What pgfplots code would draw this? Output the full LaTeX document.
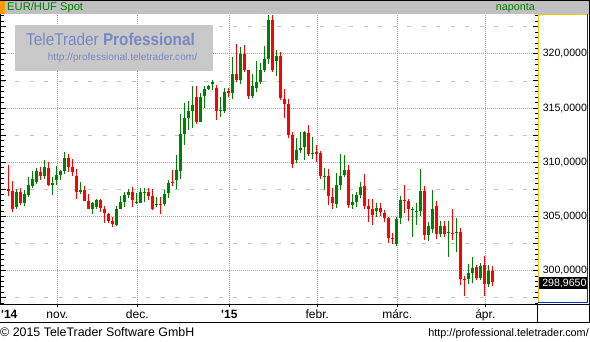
\documentclass[border=0pt]{standalone}
\usepackage{fontspec}
\setmainfont{Liberation Sans}
\usepackage{pgfplots}
\usepackage{pgfplotstable}
\pgfplotsset{compat=1.18}
\definecolor{cgreen}{RGB}{0,128,0}
\definecolor{cred}{RGB}{255,0,0}
\definecolor{bargray}{RGB}{192,192,192}
\definecolor{wmgray}{RGB}{200,200,200}
\definecolor{wmblue}{RGB}{120,136,196}
\definecolor{gridgray}{RGB}{165,165,165}
\definecolor{dashgray}{RGB}{195,195,195}
\definecolor{panelyellow}{RGB}{240,200,0}
\definecolor{panelblue}{RGB}{0,40,200}
\definecolor{tagorange}{RGB}{255,153,0}
\newcommand\fs[1]{\fontsize{#1}{#1}\selectfont}

\pgfplotstableread{
i o h l c
3 305.89 307.53 305.68 307.25
5 306.27 307.44 305.99 307.07
6 306.98 308.64 306.79 307.90
7 307.84 309.20 307.65 308.46
8 308.21 309.48 308.02 309.20
10 308.77 310.22 308.49 309.57
12 307.90 308.64 306.98 308.09
13 308.40 309.66 307.90 308.83
14 308.83 309.29 308.40 309.20
15 309.23 310.96 308.92 310.40
19 307.28 308.18 307.10 307.44
22 305.71 306.33 305.22 306.27
23 305.89 306.60 305.71 306.51
28 304.23 305.99 304.14 305.71
29 305.71 306.88 305.65 306.33
30 306.33 307.25 305.89 306.98
31 306.98 307.56 306.70 307.25
33 306.24 307.16 306.11 306.34
34 306.24 307.62 306.20 307.25
35 307.16 307.62 306.33 307.26
38 306.04 306.81 305.89 306.15
40 306.13 307.42 305.98 307.12
41 307.18 308.34 306.72 308.13
43 308.40 310.71 307.58 309.26
44 309.20 314.42 308.44 312.64
45 312.61 315.43 311.56 314.05
46 314.05 315.61 312.94 314.69
47 314.72 317.00 313.19 315.25
49 313.71 316.35 313.68 316.04
50 316.07 317.00 315.00 316.78
51 316.78 317.15 316.63 317.00
52 317.21 317.55 316.66 317.45
54 314.69 316.01 314.17 314.79
55 314.72 316.84 314.54 316.53
57 316.38 319.75 315.83 318.10
59 317.55 320.67 317.21 320.03
62 316.07 318.19 315.92 317.00
63 316.81 319.39 316.47 317.45
64 317.45 319.20 317.21 318.47
65 318.47 320.77 318.37 319.57
66 319.57 323.58 319.10 323.10
68 319.39 320.40 318.00 319.85
73 310.17 312.26 309.89 311.15
74 311.15 312.82 310.82 311.34
75 311.37 312.91 310.23 312.82
77 310.80 312.35 310.35 310.90
80 308.66 309.49 307.40 308.76
83 306.11 309.03 305.74 307.92
84 307.95 310.78 307.40 308.75
85 308.85 310.69 308.60 309.31
87 306.05 307.09 305.65 306.35
88 306.38 307.28 305.83 307.00
89 307.00 308.20 306.75 307.74
93 305.52 306.26 304.91 305.80
98 302.48 304.97 302.32 304.79
99 304.82 306.91 304.35 306.54
102 305.62 305.92 303.15 305.72
103 305.45 306.26 304.26 305.55
104 305.55 309.40 305.00 307.37
106 303.25 304.51 302.78 304.08
107 303.82 307.45 303.45 305.66
109 303.38 304.62 303.14 304.12
111 303.50 304.62 301.29 303.60
113 303.48 304.83 301.75 303.60
116 299.20 300.62 298.74 299.75
117 299.75 301.29 298.89 300.25
119 299.29 300.74 299.11 300.46
121 298.77 300.52 298.46 299.94
}\greens

\pgfplotstableread{
i o h l c
1 307.56 309.75 306.88 307.38
2 307.35 308.30 305.43 305.71
4 307.25 307.65 306.08 306.27
9 309.11 309.57 308.40 308.73
11 309.48 310.03 307.84 307.90
16 310.40 310.77 309.14 309.60
17 309.57 310.31 308.77 309.14
18 308.73 309.38 306.64 307.28
20 307.44 307.81 306.39 306.45
21 306.42 307.07 305.65 305.71
24 306.51 306.60 305.43 305.80
25 305.71 305.96 304.41 305.28
26 305.22 305.34 304.41 304.60
27 304.60 304.91 304.04 304.29
32 307.25 307.72 305.89 306.51
36 307.25 307.62 306.51 306.88
37 306.87 307.58 305.58 305.67
39 306.17 306.81 305.21 306.07
42 308.19 309.26 307.82 308.09
48 315.98 317.00 313.56 313.71
53 316.81 317.09 313.90 314.72
56 316.56 316.81 315.98 316.38
58 318.19 320.95 317.45 317.55
60 320.03 320.86 318.37 318.47
61 318.47 318.53 315.83 316.07
67 323.10 323.58 318.37 318.47
69 319.85 320.21 315.77 315.89
70 315.80 316.72 314.05 315.37
71 315.34 315.80 312.24 312.55
72 312.54 312.82 309.43 309.80
76 312.72 313.46 310.54 310.78
78 310.97 311.62 310.05 310.78
79 310.88 311.06 308.42 308.69
81 308.75 309.40 306.02 306.85
82 306.82 307.65 305.65 306.20
86 309.31 309.77 305.74 306.08
90 307.83 308.94 305.65 305.98
91 305.98 306.66 304.45 305.65
92 305.65 306.66 304.26 305.18
94 305.80 306.26 305.00 305.37
95 305.34 305.62 304.45 304.82
96 304.82 304.91 302.60 303.06
97 303.02 303.52 302.48 302.90
100 306.54 307.92 305.28 306.44
101 306.45 306.57 304.54 305.65
105 307.37 307.83 302.85 303.25
108 305.97 306.46 302.89 303.38
110 304.12 304.62 303.08 303.38
112 303.51 305.66 302.83 303.38
114 303.57 303.91 298.68 299.20
115 299.22 299.51 297.66 299.12
118 300.31 300.52 299.14 299.29
120 300.52 301.35 297.69 298.77
122 299.94 300.40 298.58 298.97
}\reds

\pgfplotsset{
  wick/.style={draw=none, mark=none, error bars/.cd, y dir=plus, y explicit, error mark=none,
    error bar style={draw=#1, line width=1pt, solid}},
  body/.style={draw=none, mark=none, error bars/.cd, y dir=plus, y explicit, error mark=none,
    error bar style={draw=#1, line width=3pt, solid}},
}

\begin{document}
\begin{tikzpicture}[x=1pt,y=1pt]
\path[use as bounding box, fill=white] (0,0) rectangle (590,342);

\begin{axis}[
  at={(1pt,38pt)}, anchor=south west,
  scale only axis, width=537pt, height=289.5pt,
  xmin=-0.8325, xmax=133.4175, ymin=296.928, ymax=323.635,
  axis line style={draw=none},
  xtick={13.25,33.25,56.25,78.25,98.25,120.25},
  xticklabels={nov.,dec.,\textbf{\textquotesingle15},febr.,márc.,ápr.},
  ytick={300,305,...,320},
  minor ytick={297.5,302.5,...,322.5},
  grid=both,
  major grid style={gridgray, dash pattern=on 1pt off 1pt, line width=0.9pt},
  minor grid style={dashgray, dash pattern=on 4pt off 10.5pt, line width=0.9pt},
  tick align=outside, major tick length=3.5pt, minor tick length=0pt,
  xtick pos=left,
  ytick style={draw=none}, xtick style={black, line width=1pt},
  yticklabel pos=right,
  /pgf/number format/assume math mode=true,
  yticklabel style={/pgf/number format/.cd, fixed, fixed zerofill, precision=4, use comma, /tikz/.cd, anchor=east, xshift=45.7pt, inner sep=0pt, font=\fs{10.6}},
  xticklabel style={anchor=base, yshift=-11pt, inner sep=0pt, font=\fs{12}},
]
\addplot[wick=cgreen] table[x=i, y=l, y error plus expr=\thisrow{h}-\thisrow{l}] {\greens};
\addplot[body=cgreen] table[x=i, y=o, y error plus expr=\thisrow{c}-\thisrow{o}] {\greens};
\addplot[wick=cred] table[x=i, y=l, y error plus expr=\thisrow{h}-\thisrow{l}] {\reds};
\addplot[body=cred] table[x=i, y=c, y error plus expr=\thisrow{o}-\thisrow{c}] {\reds};
\end{axis}

\begin{axis}[
  at={(1pt,38pt)}, anchor=south west,
  scale only axis, width=537pt, height=289.5pt,
  xmin=-0.8325, xmax=133.4175, ymin=296.928, ymax=323.635,
  axis line style={draw=none},
  xtick=\empty,
  ytick={297.5,300,...,322.5},
  minor ytick={297,297.5,...,323.5},
  yticklabels={},
  tick align=inside, major tick length=5pt, minor tick length=3pt,
  ytick pos=both,
  every tick/.style={black, line width=1pt},
]
\end{axis}

% watermark
\fill[wmgray] (15,271.3) rectangle (212.7,317);
\node[anchor=base west, inner sep=0pt, text=wmblue, font=\fs{15.3}] at (26,296) {\scalebox{1}[1.12]{TeleTrader \textbf{Professional}}};
\node[anchor=base east, inner sep=0pt, text=wmblue, font=\fs{10.1}] at (197.3,281.5) {http://professional.teletrader.com/};

% title bar
\fill[bargray] (0,327.5) rectangle (589,342);
\fill[tagorange] (0,327.5) rectangle (5,342);
\fill[black] (0,341) rectangle (590,342);
\node[anchor=base west, inner sep=0pt, text=cgreen, font=\fs{11.2}] at (7,331.3) {EUR/HUF Spot};
\node[anchor=base east, inner sep=0pt, text=cgreen, font=\fs{10.8}] at (535,331.3) {naponta};

% left border
\fill[black] (0,37) rectangle (1,327.5);

% right panel
\fill[panelyellow] (538,38.5) rectangle (539,327.5);
\fill[panelyellow] (538,326.5) rectangle (588,327.5);
\fill[panelblue] (587,38.5) rectangle (588,327.5);
\fill[panelblue] (538,38.5) rectangle (588,39.5);
\fill[black] (538.8,53.3) rectangle (587,64.7);
\node[anchor=east, inner sep=0pt, text=white, font=\fs{10.6}] at (586.7,59) {298,9650};

% frame lines
\fill[black] (589,18.5) rectangle (590,342);
\fill[black] (0,36.5) rectangle (590,38);
\fill[black] (0,18.5) rectangle (590,19.5);
\fill[black] (537,19) rectangle (538,37);

% x labels left year
\node[anchor=base west, inner sep=0pt, font=\bfseries\fs{12}] at (1,23.3) {\textquotesingle14};

% footer
\node[anchor=base west, inner sep=0pt, font=\fs{12.4}] at (0,5.3) {© 2015 TeleTrader Software GmbH};
\node[anchor=base east, inner sep=0pt, font=\fs{10.85}] at (589,5.3) {http://professional.teletrader.com/};
\end{tikzpicture}
\end{document}
